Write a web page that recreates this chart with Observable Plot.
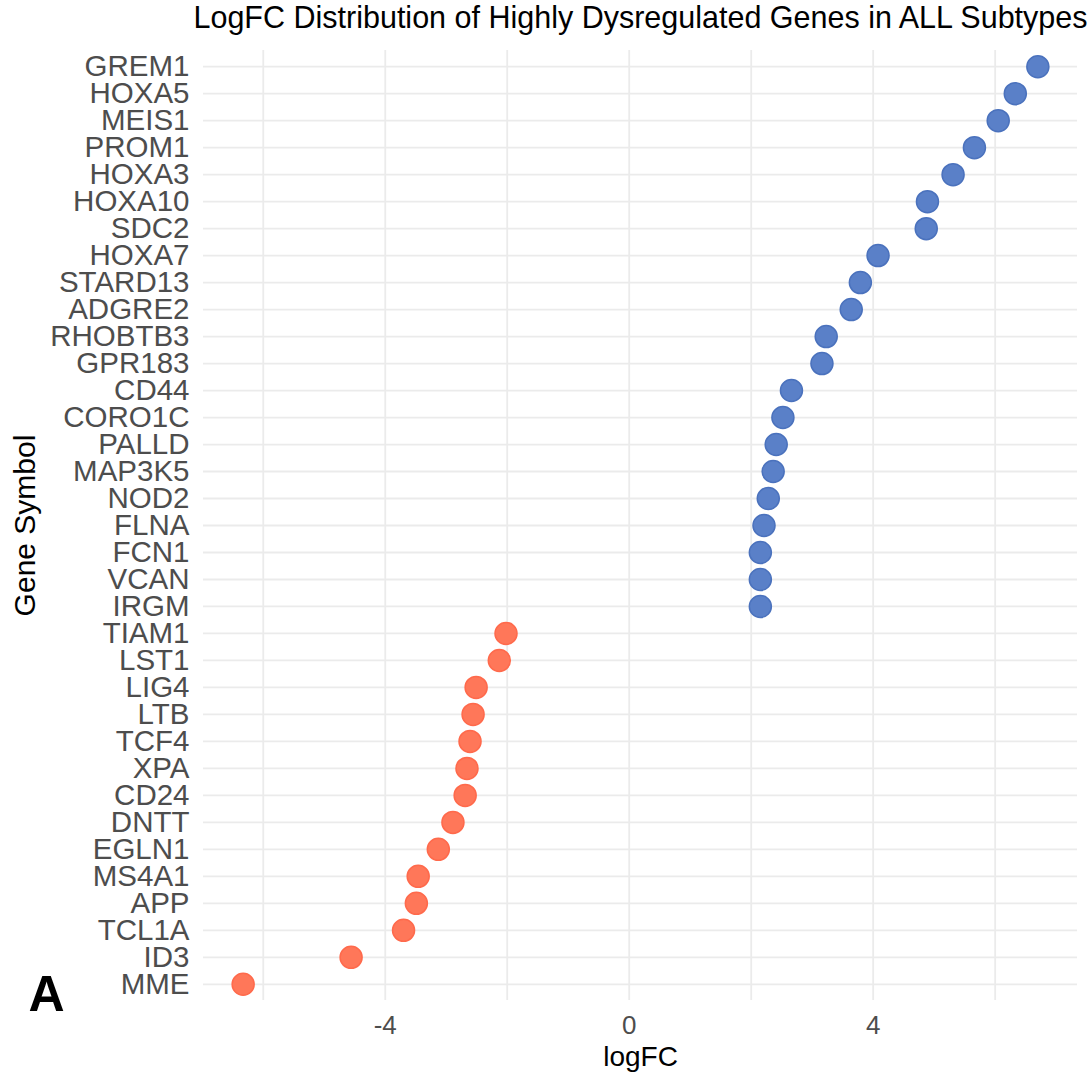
<!DOCTYPE html>
<html>
<head>
<meta charset="utf-8">
<script src="https://cdn.jsdelivr.net/npm/d3@7"></script>
<script src="https://cdn.jsdelivr.net/npm/@observablehq/plot@0.6"></script>
<style>
  html, body { margin: 0; padding: 0; background: #fff; }
  #chart { width: 1092px; height: 1076px; }
</style>
</head>
<body>
<div id="chart"></div>
<script>
const genes = ["GREM1","HOXA5","MEIS1","PROM1","HOXA3","HOXA10","SDC2","HOXA7","STARD13","ADGRE2",
  "RHOBTB3","GPR183","CD44","CORO1C","PALLD","MAP3K5","NOD2","FLNA","FCN1","VCAN","IRGM",
  "TIAM1","LST1","LIG4","LTB","TCF4","XPA","CD24","DNTT","EGLN1","MS4A1","APP","TCL1A","ID3","MME"];
const logFC = [6.70,6.33,6.05,5.66,5.31,4.89,4.87,4.08,3.79,3.64,
  3.23,3.16,2.66,2.52,2.41,2.36,2.28,2.21,2.15,2.15,2.15,
  -2.02,-2.13,-2.51,-2.56,-2.61,-2.66,-2.69,-2.89,-3.13,-3.46,-3.49,-3.70,-4.56,-6.33];
const xTicks = [-4, 0, 4];
const xGrid = [-6, -4, -2, 0, 2, 4, 6];
const titleText = "LogFC Distribution of Highly Dysregulated Genes in ALL Subtypes";
const panelLabel = "A";

const data = genes.map((g, i) => ({gene: g, logFC: logFC[i], dir: logFC[i] > 0 ? "up" : "down"}));
const fillC = {up: "#5A80C8", down: "#FF7759"};
const strokeC = {up: "#4B72BD", down: "#FF6A4C"};

const W = 1092, H = 1076;
const mL = 203, mR = 15, mT = 50, mB = 76;

const chart = Plot.plot({
  width: W, height: H,
  marginLeft: mL, marginRight: mR, marginTop: mT, marginBottom: mB,
  style: {fontFamily: "'Liberation Sans', Arial, sans-serif", background: "#fff", overflow: "visible"},
  x: {domain: [-6.98, 7.35], label: null},
  y: {type: "point", domain: genes, padding: 0.6, label: null},
  marks: [
    Plot.ruleX(xGrid, {stroke: "#EBEBEB", strokeWidth: 1.8}),
    Plot.ruleY(genes, {y: d => d, stroke: "#EBEBEB", strokeWidth: 1.8}),
    Plot.axisX({ticks: xTicks, tickFormat: d => String(d), tickSize: 0, tickPadding: 15, fontSize: 26, fill: "#4D4D4D", label: null}),
    Plot.axisY({tickSize: 0, tickPadding: 14, fontSize: 29.5, fill: "#4D4D4D", label: null}),
    Plot.dot(data, {x: "logFC", y: "gene", r: 11, fill: d => fillC[d.dir], stroke: d => strokeC[d.dir], strokeWidth: 1.5}),
    Plot.text([titleText], {frameAnchor: "top", dy: -32, fontSize: 30.5, fill: "#000", lineAnchor: "middle"}),
    Plot.text(["logFC"], {frameAnchor: "bottom", dy: 57, fontSize: 28, fill: "#000", lineAnchor: "middle"}),
    Plot.text(["Gene Symbol"], {frameAnchor: "left", dx: -178, rotate: -90, textAnchor: "middle", fontSize: 30, fill: "#000", lineAnchor: "middle"}),
    Plot.text([panelLabel], {frameAnchor: "bottom-left", dx: -175, dy: 10, fontSize: 50, fontWeight: "bold", fill: "#000", textAnchor: "start", lineAnchor: "bottom"})
  ]
});
document.getElementById("chart").appendChild(chart);
</script>
</body>
</html>
